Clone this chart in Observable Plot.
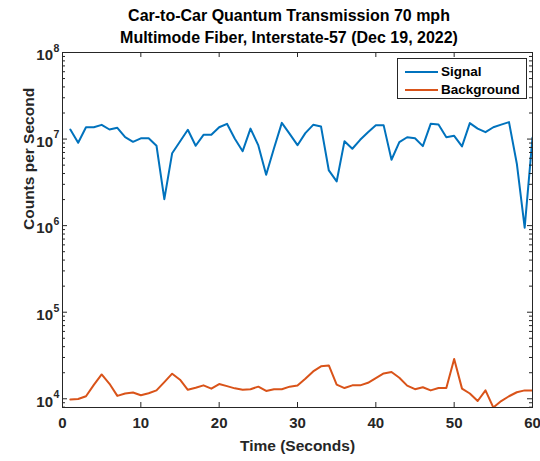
<!DOCTYPE html>
<html>
<head>
<meta charset="utf-8">
<script src="https://cdn.jsdelivr.net/npm/d3@7"></script>
<script src="https://cdn.jsdelivr.net/npm/@observablehq/plot@0.6"></script>
<style>
  html, body { margin: 0; padding: 0; background: #fff; }
  #wrap { position: relative; width: 540px; height: 461px; font-family: "Liberation Sans", Arial, Helvetica, sans-serif; }
  #title { position: absolute; left: 0; top: 5px; width: 578px; text-align: center; font-weight: bold; font-size: 16px; line-height: 21.5px; color: #000; }
  #legend { position: absolute; left: 397px; top: 58px; width: 128px; height: 39px; border: 1px solid #262626; background: #fff; font-weight: bold; font-size: 13.5px; color: #000; }
  .row { position: absolute; left: 0; height: 18px; width: 128px; }
  .sw { position: absolute; left: 7px; top: 8px; width: 33px; height: 2px; }
  .lb { position: absolute; left: 43px; top: 0; line-height: 18px; }
</style>
</head>
<body>
<div id="wrap">
  <div id="chart"></div>
  <div id="title">Car-to-Car Quantum Transmission 70 mph<br>Multimode Fiber, Interstate-57 (Dec 19, 2022)</div>
  <div id="legend"></div>
</div>
<script>
// Time (s)
const time = [1,2,3,4,5,6,7,8,9,10,11,12,13,14,15,16,17,18,19,20,21,22,23,24,25,26,27,28,29,30,
  31,32,33,34,35,36,37,38,39,40,41,42,43,44,45,46,47,48,49,50,51,52,53,54,55,56,57,58,59,60];
// Signal counts per second
const signal = [1.29e7,9.06e6,1.37e7,1.37e7,1.46e7,1.29e7,1.35e7,1.05e7,9.3e6,1.02e7,
  1.02e7,8.37e6,2.02e6,6.87e6,9.38e6,1.28e7,8.37e6,1.12e7,1.12e7,1.37e7,
  1.50e7,1.01e7,7.25e6,1.32e7,8.44e6,3.87e6,7.85e6,1.54e7,1.15e7,8.5e6,
  1.17e7,1.46e7,1.40e7,4.34e6,3.24e6,9.46e6,7.73e6,9.8e6,1.20e7,1.44e7,
  1.44e7,5.77e6,9.2e6,1.05e7,1.02e7,8.28e6,1.50e7,1.47e7,1.05e7,1.09e7,
  8.22e6,1.53e7,1.32e7,1.20e7,1.37e7,1.47e7,1.57e7,5.19e6,9.46e5,1.04e7];
// Background counts per second
const background = [9.84e3,9.93e3,1.07e4,1.45e4,1.91e4,1.49e4,1.08e4,1.15e4,1.18e4,1.10e4,
  1.16e4,1.25e4,1.56e4,1.95e4,1.66e4,1.27e4,1.34e4,1.43e4,1.31e4,1.48e4,
  1.40e4,1.32e4,1.27e4,1.29e4,1.38e4,1.23e4,1.29e4,1.29e4,1.38e4,1.42e4,
  1.70e4,2.07e4,2.37e4,2.43e4,1.46e4,1.33e4,1.43e4,1.43e4,1.53e4,1.73e4,
  1.96e4,2.04e4,1.75e4,1.42e4,1.29e4,1.36e4,1.25e4,1.33e4,1.33e4,2.88e4,
  1.31e4,1.15e4,9.42e3,1.25e4,7.93e3,9.42e3,1.07e4,1.19e4,1.25e4,1.25e4];

const seriesNames = ["Signal", "Background"];
const seriesColors = ["#0072BD", "#D95319"];
const xTicks = [0,10,20,30,40,50,60];
const yMajor = [1e4,1e5,1e6,1e7,1e8];
const yDomain = [7.93e3, 1e8];
const xDomain = [0, 60];

const yMinor = [];
for (let e = 3; e < 8; e++) for (let m = 2; m <= 9; m++) {
  const v = m * Math.pow(10, e);
  if (v > yDomain[0] && v < yDomain[1]) yMinor.push(v);
}

const rows = time.map((t, i) => ({t, signal: signal[i], background: background[i]}));

const W = 540, H = 461;
const mL = 62, mR = 8, mT = 52, mB = 54;
const fw = W - mL - mR, fh = H - mT - mB;
const ink = "#262626";
const font = "Liberation Sans, Arial, Helvetica, sans-serif";

const chart = Plot.plot({
  width: W, height: H,
  marginLeft: mL, marginRight: mR, marginTop: mT, marginBottom: mB,
  style: {fontFamily: font, background: "white"},
  x: {domain: xDomain, axis: null},
  y: {type: "log", domain: yDomain, axis: null},
  marks: [
    Plot.line(rows, {x: "t", y: "background", stroke: seriesColors[1], strokeWidth: 2, clip: true}),
    Plot.line(rows, {x: "t", y: "signal", stroke: seriesColors[0], strokeWidth: 2, clip: true}),
    // x ticks (bottom & top, inward)
    Plot.ruleX(xTicks, {x: d => d, insetTop: fh - 5, stroke: ink}),
    Plot.ruleX(xTicks, {x: d => d, insetBottom: fh - 5, stroke: ink}),
    // y major ticks (left & right)
    Plot.ruleY(yMajor, {y: d => d, insetRight: fw - 5, stroke: ink}),
    Plot.ruleY(yMajor, {y: d => d, insetLeft: fw - 5, stroke: ink}),
    // y minor ticks
    Plot.ruleY(yMinor, {y: d => d, insetRight: fw - 3, stroke: ink}),
    Plot.ruleY(yMinor, {y: d => d, insetLeft: fw - 3, stroke: ink}),
    Plot.frame({stroke: ink, strokeWidth: 1}),
    // x tick labels
    Plot.text(xTicks, {x: d => d, text: d => String(d), frameAnchor: "bottom", lineAnchor: "middle", dy: 16, fontSize: 15, fontWeight: "bold", fill: ink}),
    // y tick labels: base and exponent
    Plot.text(yMajor, {y: d => d, text: () => "10", frameAnchor: "left", textAnchor: "end", dx: -9.5, dy: 3, fontSize: 15, fontWeight: "bold", fill: ink}),
    Plot.text(yMajor, {y: d => d, text: d => String(Math.round(Math.log10(d))), frameAnchor: "left", textAnchor: "start", dx: -9, dy: -4, fontSize: 10.5, fontWeight: "bold", fill: ink}),
    // axis labels
    Plot.text(["Time (Seconds)"], {text: d => d, frameAnchor: "bottom", lineAnchor: "middle", dy: 39, fontSize: 15.5, fontWeight: "bold", fill: ink}),
    Plot.text(["Counts per Second"], {text: d => d, frameAnchor: "left", rotate: -90, dx: -33, fontSize: 15.5, fontWeight: "bold", fill: ink})
  ]
});
document.getElementById("chart").appendChild(chart);

const leg = document.getElementById("legend");
seriesNames.forEach((n, i) => {
  const r = document.createElement("div");
  r.className = "row";
  r.style.top = (4 + i * 17.5) + "px";
  r.innerHTML = `<div class="sw" style="background:${seriesColors[i]}"></div><div class="lb">${n}</div>`;
  leg.appendChild(r);
});
</script>
</body>
</html>
